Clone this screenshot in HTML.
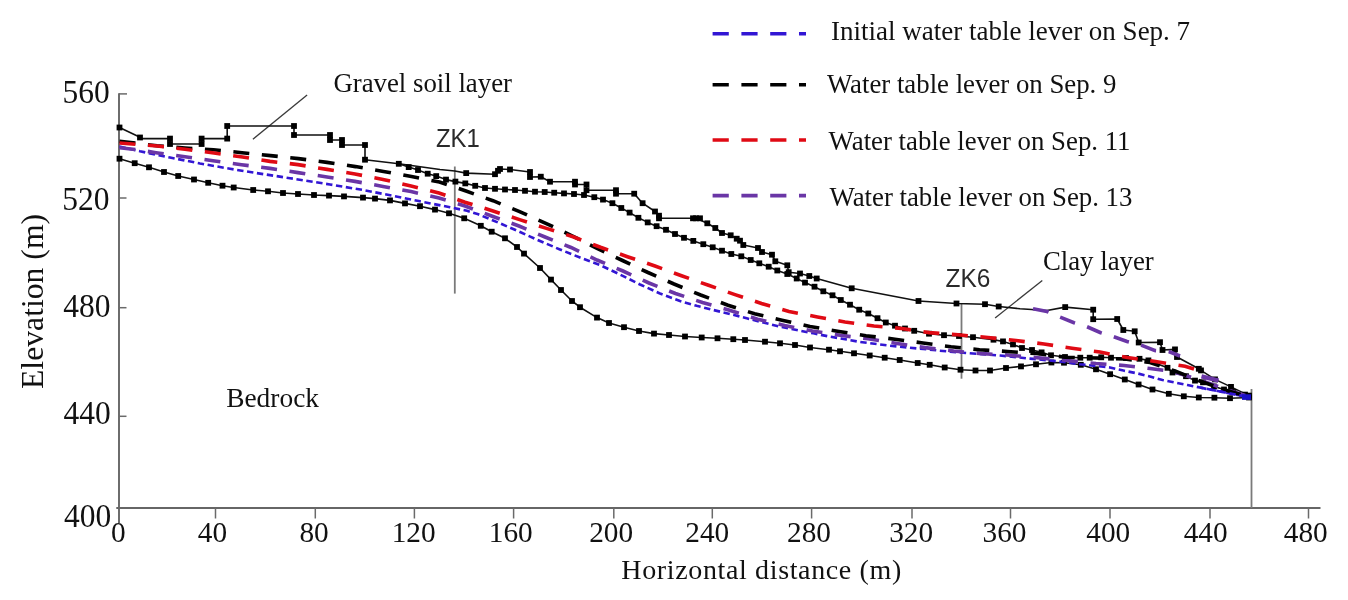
<!DOCTYPE html>
<html><head><meta charset="utf-8"><title>Elevation chart</title>
<style>html,body{margin:0;padding:0;background:#fff;} svg{display:block;filter:blur(0.3px);}</style>
</head><body>
<svg width="1348" height="600" viewBox="0 0 1348 600"><rect width="1348" height="600" fill="#fff"/><g stroke="#666" stroke-width="1.9" fill="none"><path d="M119,93.2 V523 M116.3,508 H1320.5"/></g><g stroke="#6a6a6a" stroke-width="1.5" fill="none"><path d="M119,93.9 H127"/><path d="M119,198 H126.5"/><path d="M119,307.7 H126.5"/><path d="M119,416.3 H126.5"/><path d="M215.5,508 V518.5"/><path d="M315.3,508 V518.5"/><path d="M414.4,508 V518.5"/><path d="M513.6,508 V518.5"/><path d="M613.8,508 V518.5"/><path d="M712.3,508 V518.5"/><path d="M811.6,508 V518.5"/><path d="M912,508 V518.5"/><path d="M1010.5,508 V518.5"/><path d="M1110,508 V518.5"/><path d="M1210,508 V518.5"/><path d="M1308.5,508 V518.5"/></g><g font-family="Liberation Serif" font-size="31.5" fill="#111" text-anchor="end"><text transform="translate(109.8,103.0) scale(1,1.1)">560</text><text transform="translate(109.4,210.4) scale(1,1.1)">520</text><text transform="translate(110.6,317.4) scale(1,1.1)">480</text><text transform="translate(110.8,424.0) scale(1,1.1)">440</text><text transform="translate(111.2,527.2) scale(1,1.1)">400</text></g><g font-family="Liberation Serif" font-size="29.3" fill="#111" text-anchor="middle"><text x="118.4" y="541.5">0</text><text x="212.5" y="541.5">40</text><text x="314.1" y="541.5">80</text><text x="413.7" y="541.5">120</text><text x="510.8" y="541.5">160</text><text x="611.2" y="541.5">200</text><text x="707.3" y="541.5">240</text><text x="809.0" y="541.5">280</text><text x="911.2" y="541.5">320</text><text x="1004.5" y="541.5">360</text><text x="1108.3" y="541.5">400</text><text x="1205.7" y="541.5">440</text><text x="1305.8" y="541.5">480</text></g><g stroke="#3a3a3a" stroke-width="1.3" fill="none"><path d="M307.1,95 L252.9,139.2"/><path d="M1042.3,280.5 L995.1,317.9"/></g><g stroke="#7a7a7a" stroke-width="1.8" fill="none"><path d="M454.8,166.5 V293.6"/><path d="M961.5,303 V378.7"/><path d="M1251.5,389 V508"/></g><g fill="none" stroke="#111" stroke-width="1.6" stroke-linejoin="round"><path d="M119.5,127.5 L140.0,137.2 L140.0,138.6 L170.0,138.6 L170.0,144.0 L201.6,144.0 L201.6,138.6 L227.2,138.6 L227.2,126.0 L294.0,126.0 L294.0,135.0 L330.0,135.0 L330.0,140.0 L342.0,140.0 L342.0,145.0 L365.0,145.0 L365.0,159.7 L398.8,163.8 L440.0,169.5 L454.8,171.0 L466.2,173.1 L495.0,174.2 L498.0,170.8 L500.0,169.0 L510.0,169.5 L530.0,172.0 L530.0,177.0 L540.8,176.7 L550.0,181.7 L575.0,181.7 L575.0,184.5 L586.5,184.5 L586.5,190.2 L616.0,190.2 L616.0,193.7 L634.2,193.7 L642.6,203.2 L655.0,211.5 L659.0,215.7 L659.0,218.3 L696.0,218.3 L707.3,223.3 L715.3,228.0 L722.0,233.0 L730.7,235.3 L736.7,238.7 L740.0,240.7 L743.3,245.0 L758.0,248.0 L762.0,252.0 L772.0,254.7 L775.3,261.3 L787.3,265.3 L788.7,272.2 L800.0,273.5 L809.3,276.0 L816.7,278.5 L851.7,288.3 L918.5,301.0 L956.5,303.5 L985.0,304.2 L998.7,306.5 L1020.0,308.7 L1047.0,310.5 L1065.2,307.1 L1093.2,309.7 L1093.2,319.2 L1117.2,319.0 L1123.3,330.0 L1134.7,331.3 L1138.7,342.5 L1160.0,342.2 L1162.5,350.0 L1175.0,349.4 L1177.0,357.0 L1198.8,368.8 L1201.0,370.4 L1215.0,379.4 L1231.0,386.9 L1249.0,395.6 L1251.5,397.0"/><path d="M398.8,163.8 L408.7,167.1 L418.0,170.0 L427.7,173.7 L436.2,176.1 L446.0,179.6 L455.4,181.6 L465.3,183.4 L475.2,185.8 L485.0,188.0 L495.0,188.8 L505.0,189.5 L515.0,190.0 L525.0,190.8 L535.0,191.7 L544.7,192.0 L554.2,192.7 L564.0,193.4 L574.0,194.0 L584.0,195.0 L594.3,197.2 L603.0,199.6 L612.4,203.2 L621.3,208.0 L629.6,212.6 L638.4,217.8 L647.7,222.4 L656.6,226.2 L666.0,229.8 L675.0,234.0 L684.0,237.8 L693.3,240.9 L703.3,244.2 L712.7,247.3 L722.0,250.7 L731.3,254.0 L741.3,256.3 L750.7,260.0 L759.3,263.3 L768.7,266.7 L777.3,270.5 L787.3,274.0 L796.7,278.5 L805.0,282.6 L814.5,286.7 L823.3,291.3 L832.5,295.3 L840.8,300.0 L850.0,304.7 L859.2,309.7 L868.3,313.5 L877.5,318.2 L885.8,322.5 L895.0,325.7 L905.0,328.5 L914.2,330.8 L929.0,333.7 L944.0,335.2 L959.0,336.0 L973.0,337.2 L993.5,339.7 L1003.0,341.4 L1013.0,344.4 L1022.0,348.0 L1032.0,350.0 L1041.6,352.4 L1051.0,355.3 L1065.0,357.0 L1080.3,357.7 L1089.7,357.7 L1101.2,357.3 L1111.0,357.7 L1126.0,358.0 L1139.5,358.8 L1148.4,360.4 L1167.5,367.8 L1172.5,372.5 L1186.0,376.2 L1195.0,380.6 L1203.0,382.3 L1214.0,386.5 L1224.0,389.5 L1233.5,392.0 L1245.0,394.6 L1251.5,397.0"/><path d="M119.5,158.7 L134.7,163.2 L149.0,167.3 L164.0,172.0 L178.2,176.0 L194.0,179.5 L208.2,182.8 L222.5,185.7 L233.7,187.5 L253.2,190.0 L268.0,191.3 L283.0,193.0 L298.0,194.0 L314.0,195.0 L329.0,195.6 L344.0,196.4 L363.0,197.6 L375.0,198.6 L390.0,200.4 L405.0,203.4 L420.0,206.2 L435.0,209.6 L449.0,213.3 L464.2,218.3 L480.8,225.8 L491.7,231.7 L505.0,238.3 L517.0,247.0 L524.0,253.6 L540.0,268.0 L551.0,279.6 L561.0,290.0 L572.0,301.0 L580.0,307.2 L597.0,317.6 L609.0,323.0 L624.0,327.2 L639.0,331.0 L654.0,333.6 L669.0,335.0 L685.0,336.5 L701.7,337.5 L717.5,338.3 L733.3,339.2 L745.0,340.0 L765.0,341.7 L780.0,343.3 L795.0,345.0 L810.0,347.5 L829.0,349.7 L840.0,351.3 L854.0,353.3 L869.7,355.5 L884.7,357.7 L899.7,360.0 L917.7,363.0 L929.7,364.8 L944.7,367.5 L960.5,369.7 L975.5,370.5 L990.0,370.5 L1006.0,368.0 L1021.0,366.4 L1036.0,364.3 L1051.4,362.5 L1064.0,362.7 L1080.8,364.8 L1096.0,369.3 L1110.1,374.2 L1124.8,379.5 L1138.6,384.5 L1152.5,389.5 L1168.8,393.8 L1183.8,396.3 L1198.8,397.5 L1214.4,397.7 L1230.0,398.2 L1249.0,397.5 L1251.5,397.0"/></g><g fill="#000"><rect x="116.6" y="124.6" width="5.8" height="5.8"/><rect x="137.1" y="134.6" width="5.8" height="5.8"/><rect x="167.1" y="135.7" width="5.8" height="5.8"/><rect x="167.1" y="141.1" width="5.8" height="5.8"/><rect x="198.7" y="141.1" width="5.8" height="5.8"/><rect x="198.7" y="135.7" width="5.8" height="5.8"/><rect x="224.3" y="135.7" width="5.8" height="5.8"/><rect x="224.3" y="123.1" width="5.8" height="5.8"/><rect x="291.1" y="123.1" width="5.8" height="5.8"/><rect x="291.1" y="132.1" width="5.8" height="5.8"/><rect x="327.1" y="132.1" width="5.8" height="5.8"/><rect x="327.1" y="137.1" width="5.8" height="5.8"/><rect x="339.1" y="137.1" width="5.8" height="5.8"/><rect x="339.1" y="142.1" width="5.8" height="5.8"/><rect x="362.1" y="142.1" width="5.8" height="5.8"/><rect x="362.1" y="156.8" width="5.8" height="5.8"/><rect x="395.9" y="160.9" width="5.8" height="5.8"/><rect x="463.3" y="170.2" width="5.8" height="5.8"/><rect x="492.1" y="171.3" width="5.8" height="5.8"/><rect x="495.1" y="167.9" width="5.8" height="5.8"/><rect x="497.1" y="166.1" width="5.8" height="5.8"/><rect x="507.1" y="166.6" width="5.8" height="5.8"/><rect x="527.1" y="169.1" width="5.8" height="5.8"/><rect x="527.1" y="174.1" width="5.8" height="5.8"/><rect x="537.9" y="173.8" width="5.8" height="5.8"/><rect x="547.1" y="178.8" width="5.8" height="5.8"/><rect x="572.1" y="178.8" width="5.8" height="5.8"/><rect x="572.1" y="181.6" width="5.8" height="5.8"/><rect x="583.6" y="181.6" width="5.8" height="5.8"/><rect x="583.6" y="187.3" width="5.8" height="5.8"/><rect x="613.1" y="187.3" width="5.8" height="5.8"/><rect x="613.1" y="190.8" width="5.8" height="5.8"/><rect x="631.3" y="190.8" width="5.8" height="5.8"/><rect x="639.7" y="200.3" width="5.8" height="5.8"/><rect x="652.1" y="208.6" width="5.8" height="5.8"/><rect x="656.1" y="212.8" width="5.8" height="5.8"/><rect x="656.1" y="215.4" width="5.8" height="5.8"/><rect x="690.1" y="215.4" width="5.8" height="5.8"/><rect x="693.1" y="215.4" width="5.8" height="5.8"/><rect x="697.1" y="215.4" width="5.8" height="5.8"/><rect x="704.4" y="220.4" width="5.8" height="5.8"/><rect x="712.4" y="225.1" width="5.8" height="5.8"/><rect x="719.1" y="230.1" width="5.8" height="5.8"/><rect x="727.8" y="232.4" width="5.8" height="5.8"/><rect x="733.8" y="235.8" width="5.8" height="5.8"/><rect x="737.1" y="237.8" width="5.8" height="5.8"/><rect x="740.4" y="242.1" width="5.8" height="5.8"/><rect x="755.1" y="245.1" width="5.8" height="5.8"/><rect x="759.1" y="249.1" width="5.8" height="5.8"/><rect x="769.1" y="251.8" width="5.8" height="5.8"/><rect x="772.4" y="258.4" width="5.8" height="5.8"/><rect x="784.4" y="262.4" width="5.8" height="5.8"/><rect x="785.8" y="269.3" width="5.8" height="5.8"/><rect x="797.1" y="270.6" width="5.8" height="5.8"/><rect x="806.4" y="273.1" width="5.8" height="5.8"/><rect x="813.8" y="275.6" width="5.8" height="5.8"/><rect x="848.8" y="285.4" width="5.8" height="5.8"/><rect x="915.6" y="298.1" width="5.8" height="5.8"/><rect x="953.6" y="300.6" width="5.8" height="5.8"/><rect x="982.1" y="301.3" width="5.8" height="5.8"/><rect x="995.8" y="303.6" width="5.8" height="5.8"/><rect x="1062.3" y="304.2" width="5.8" height="5.8"/><rect x="1090.3" y="306.8" width="5.8" height="5.8"/><rect x="1090.3" y="316.3" width="5.8" height="5.8"/><rect x="1114.3" y="316.1" width="5.8" height="5.8"/><rect x="1120.4" y="327.1" width="5.8" height="5.8"/><rect x="1131.8" y="328.4" width="5.8" height="5.8"/><rect x="1135.8" y="339.6" width="5.8" height="5.8"/><rect x="1157.1" y="339.3" width="5.8" height="5.8"/><rect x="1159.6" y="347.1" width="5.8" height="5.8"/><rect x="1172.1" y="346.5" width="5.8" height="5.8"/><rect x="1174.1" y="354.1" width="5.8" height="5.8"/><rect x="1195.9" y="365.9" width="5.8" height="5.8"/><rect x="1198.1" y="367.5" width="5.8" height="5.8"/><rect x="1212.1" y="376.5" width="5.8" height="5.8"/><rect x="1228.1" y="384.0" width="5.8" height="5.8"/><rect x="1246.1" y="392.7" width="5.8" height="5.8"/><rect x="405.8" y="164.2" width="5.8" height="5.8"/><rect x="415.1" y="167.1" width="5.8" height="5.8"/><rect x="424.8" y="170.8" width="5.8" height="5.8"/><rect x="433.3" y="173.2" width="5.8" height="5.8"/><rect x="443.1" y="176.7" width="5.8" height="5.8"/><rect x="452.5" y="178.7" width="5.8" height="5.8"/><rect x="462.4" y="180.5" width="5.8" height="5.8"/><rect x="472.3" y="182.9" width="5.8" height="5.8"/><rect x="482.1" y="185.1" width="5.8" height="5.8"/><rect x="492.1" y="185.9" width="5.8" height="5.8"/><rect x="502.1" y="186.6" width="5.8" height="5.8"/><rect x="512.1" y="187.1" width="5.8" height="5.8"/><rect x="522.1" y="187.9" width="5.8" height="5.8"/><rect x="532.1" y="188.8" width="5.8" height="5.8"/><rect x="541.8" y="189.1" width="5.8" height="5.8"/><rect x="551.3" y="189.8" width="5.8" height="5.8"/><rect x="561.1" y="190.5" width="5.8" height="5.8"/><rect x="571.1" y="191.1" width="5.8" height="5.8"/><rect x="581.1" y="192.1" width="5.8" height="5.8"/><rect x="591.4" y="194.3" width="5.8" height="5.8"/><rect x="600.1" y="196.7" width="5.8" height="5.8"/><rect x="609.5" y="200.3" width="5.8" height="5.8"/><rect x="618.4" y="205.1" width="5.8" height="5.8"/><rect x="626.7" y="209.7" width="5.8" height="5.8"/><rect x="635.5" y="214.9" width="5.8" height="5.8"/><rect x="644.8" y="219.5" width="5.8" height="5.8"/><rect x="653.7" y="223.3" width="5.8" height="5.8"/><rect x="663.1" y="226.9" width="5.8" height="5.8"/><rect x="672.1" y="231.1" width="5.8" height="5.8"/><rect x="681.1" y="234.9" width="5.8" height="5.8"/><rect x="690.4" y="238.0" width="5.8" height="5.8"/><rect x="700.4" y="241.3" width="5.8" height="5.8"/><rect x="709.8" y="244.4" width="5.8" height="5.8"/><rect x="719.1" y="247.8" width="5.8" height="5.8"/><rect x="728.4" y="251.1" width="5.8" height="5.8"/><rect x="738.4" y="253.4" width="5.8" height="5.8"/><rect x="747.8" y="257.1" width="5.8" height="5.8"/><rect x="756.4" y="260.4" width="5.8" height="5.8"/><rect x="765.8" y="263.8" width="5.8" height="5.8"/><rect x="774.4" y="267.6" width="5.8" height="5.8"/><rect x="784.4" y="271.1" width="5.8" height="5.8"/><rect x="793.8" y="275.6" width="5.8" height="5.8"/><rect x="802.1" y="279.7" width="5.8" height="5.8"/><rect x="811.6" y="283.8" width="5.8" height="5.8"/><rect x="820.4" y="288.4" width="5.8" height="5.8"/><rect x="829.6" y="292.4" width="5.8" height="5.8"/><rect x="837.9" y="297.1" width="5.8" height="5.8"/><rect x="847.1" y="301.8" width="5.8" height="5.8"/><rect x="856.3" y="306.8" width="5.8" height="5.8"/><rect x="865.4" y="310.6" width="5.8" height="5.8"/><rect x="874.6" y="315.3" width="5.8" height="5.8"/><rect x="882.9" y="319.6" width="5.8" height="5.8"/><rect x="892.1" y="322.8" width="5.8" height="5.8"/><rect x="902.1" y="325.6" width="5.8" height="5.8"/><rect x="911.3" y="327.9" width="5.8" height="5.8"/><rect x="926.1" y="330.8" width="5.8" height="5.8"/><rect x="941.1" y="332.3" width="5.8" height="5.8"/><rect x="956.1" y="333.1" width="5.8" height="5.8"/><rect x="970.1" y="334.3" width="5.8" height="5.8"/><rect x="990.6" y="336.8" width="5.8" height="5.8"/><rect x="1000.1" y="338.5" width="5.8" height="5.8"/><rect x="1010.1" y="341.5" width="5.8" height="5.8"/><rect x="1019.1" y="345.1" width="5.8" height="5.8"/><rect x="1029.1" y="347.1" width="5.8" height="5.8"/><rect x="1038.7" y="349.5" width="5.8" height="5.8"/><rect x="1048.1" y="352.4" width="5.8" height="5.8"/><rect x="1062.1" y="354.1" width="5.8" height="5.8"/><rect x="1077.4" y="354.8" width="5.8" height="5.8"/><rect x="1086.8" y="354.8" width="5.8" height="5.8"/><rect x="1098.3" y="354.4" width="5.8" height="5.8"/><rect x="1108.1" y="354.8" width="5.8" height="5.8"/><rect x="1123.1" y="355.1" width="5.8" height="5.8"/><rect x="1136.6" y="355.9" width="5.8" height="5.8"/><rect x="1145.5" y="357.5" width="5.8" height="5.8"/><rect x="1164.6" y="364.9" width="5.8" height="5.8"/><rect x="1169.6" y="369.6" width="5.8" height="5.8"/><rect x="1183.1" y="373.3" width="5.8" height="5.8"/><rect x="1192.1" y="377.7" width="5.8" height="5.8"/><rect x="1200.1" y="379.4" width="5.8" height="5.8"/><rect x="1211.1" y="383.6" width="5.8" height="5.8"/><rect x="1221.1" y="386.6" width="5.8" height="5.8"/><rect x="1230.6" y="389.1" width="5.8" height="5.8"/><rect x="1242.1" y="391.7" width="5.8" height="5.8"/><rect x="116.6" y="155.8" width="5.8" height="5.8"/><rect x="131.8" y="160.3" width="5.8" height="5.8"/><rect x="146.1" y="164.4" width="5.8" height="5.8"/><rect x="161.1" y="169.1" width="5.8" height="5.8"/><rect x="175.3" y="173.1" width="5.8" height="5.8"/><rect x="191.1" y="176.6" width="5.8" height="5.8"/><rect x="205.3" y="179.9" width="5.8" height="5.8"/><rect x="219.6" y="182.8" width="5.8" height="5.8"/><rect x="230.8" y="184.6" width="5.8" height="5.8"/><rect x="250.3" y="187.1" width="5.8" height="5.8"/><rect x="265.1" y="188.4" width="5.8" height="5.8"/><rect x="280.1" y="190.1" width="5.8" height="5.8"/><rect x="295.1" y="191.1" width="5.8" height="5.8"/><rect x="311.1" y="192.1" width="5.8" height="5.8"/><rect x="326.1" y="192.7" width="5.8" height="5.8"/><rect x="341.1" y="193.5" width="5.8" height="5.8"/><rect x="360.1" y="194.7" width="5.8" height="5.8"/><rect x="372.1" y="195.7" width="5.8" height="5.8"/><rect x="387.1" y="197.5" width="5.8" height="5.8"/><rect x="402.1" y="200.5" width="5.8" height="5.8"/><rect x="417.1" y="203.3" width="5.8" height="5.8"/><rect x="432.1" y="206.7" width="5.8" height="5.8"/><rect x="446.1" y="210.4" width="5.8" height="5.8"/><rect x="461.3" y="215.4" width="5.8" height="5.8"/><rect x="477.9" y="222.9" width="5.8" height="5.8"/><rect x="488.8" y="228.8" width="5.8" height="5.8"/><rect x="502.1" y="235.4" width="5.8" height="5.8"/><rect x="514.1" y="244.1" width="5.8" height="5.8"/><rect x="521.1" y="250.7" width="5.8" height="5.8"/><rect x="537.1" y="265.1" width="5.8" height="5.8"/><rect x="548.1" y="276.7" width="5.8" height="5.8"/><rect x="558.1" y="287.1" width="5.8" height="5.8"/><rect x="569.1" y="298.1" width="5.8" height="5.8"/><rect x="577.1" y="304.3" width="5.8" height="5.8"/><rect x="594.1" y="314.7" width="5.8" height="5.8"/><rect x="606.1" y="320.1" width="5.8" height="5.8"/><rect x="621.1" y="324.3" width="5.8" height="5.8"/><rect x="636.1" y="328.1" width="5.8" height="5.8"/><rect x="651.1" y="330.7" width="5.8" height="5.8"/><rect x="666.1" y="332.1" width="5.8" height="5.8"/><rect x="682.1" y="333.6" width="5.8" height="5.8"/><rect x="698.8" y="334.6" width="5.8" height="5.8"/><rect x="714.6" y="335.4" width="5.8" height="5.8"/><rect x="730.4" y="336.3" width="5.8" height="5.8"/><rect x="742.1" y="337.1" width="5.8" height="5.8"/><rect x="762.1" y="338.8" width="5.8" height="5.8"/><rect x="777.1" y="340.4" width="5.8" height="5.8"/><rect x="792.1" y="342.1" width="5.8" height="5.8"/><rect x="807.1" y="344.6" width="5.8" height="5.8"/><rect x="826.1" y="346.8" width="5.8" height="5.8"/><rect x="837.1" y="348.4" width="5.8" height="5.8"/><rect x="851.1" y="350.4" width="5.8" height="5.8"/><rect x="866.8" y="352.6" width="5.8" height="5.8"/><rect x="881.8" y="354.8" width="5.8" height="5.8"/><rect x="896.8" y="357.1" width="5.8" height="5.8"/><rect x="914.8" y="360.1" width="5.8" height="5.8"/><rect x="926.8" y="361.9" width="5.8" height="5.8"/><rect x="941.8" y="364.6" width="5.8" height="5.8"/><rect x="957.6" y="366.8" width="5.8" height="5.8"/><rect x="972.6" y="367.6" width="5.8" height="5.8"/><rect x="987.1" y="367.6" width="5.8" height="5.8"/><rect x="1003.1" y="365.1" width="5.8" height="5.8"/><rect x="1018.1" y="363.5" width="5.8" height="5.8"/><rect x="1033.1" y="361.4" width="5.8" height="5.8"/><rect x="1048.5" y="359.6" width="5.8" height="5.8"/><rect x="1061.1" y="359.8" width="5.8" height="5.8"/><rect x="1077.9" y="361.9" width="5.8" height="5.8"/><rect x="1093.1" y="366.4" width="5.8" height="5.8"/><rect x="1107.2" y="371.3" width="5.8" height="5.8"/><rect x="1121.9" y="376.6" width="5.8" height="5.8"/><rect x="1135.7" y="381.6" width="5.8" height="5.8"/><rect x="1149.6" y="386.6" width="5.8" height="5.8"/><rect x="1165.9" y="390.9" width="5.8" height="5.8"/><rect x="1180.9" y="393.4" width="5.8" height="5.8"/><rect x="1195.9" y="394.6" width="5.8" height="5.8"/><rect x="1211.5" y="394.8" width="5.8" height="5.8"/><rect x="1227.1" y="395.3" width="5.8" height="5.8"/><rect x="1246.1" y="394.6" width="5.8" height="5.8"/></g><path d="M119.5,146.5 L140.0,151.3 L170.0,157.5 L200.0,163.5 L230.0,168.8 L260.0,173.6 L290.0,178.2 L330.0,184.5 L362.0,189.8 L394.0,196.0 L420.0,201.3 L450.0,207.3 L467.0,210.8 L478.3,214.3 L500.0,223.3 L520.0,232.0 L540.0,241.0 L560.0,249.5 L580.0,257.5 L600.0,265.0 L620.0,274.5 L640.0,284.5 L660.0,293.5 L680.0,301.0 L696.7,305.8 L713.3,310.0 L730.0,314.0 L746.7,318.3 L763.3,322.5 L780.0,326.7 L796.7,330.0 L813.3,333.3 L830.0,336.7 L846.7,339.5 L860.0,342.0 L890.0,345.7 L920.0,348.7 L950.0,351.7 L980.0,354.0 L1000.0,355.5 L1030.0,358.6 L1060.0,361.5 L1080.0,364.2 L1110.0,367.5 L1123.5,370.6 L1137.0,373.3 L1150.0,376.5 L1162.5,380.0 L1175.0,382.5 L1187.5,385.0 L1200.0,387.5 L1212.5,390.0 L1225.0,392.5 L1237.5,395.0 L1250.0,397.0" fill="none" stroke="#3216d4" stroke-width="2.6" stroke-dasharray="6.4 3.6"/><path d="M119.5,147.8 L136.0,149.5 L156.0,152.7 L185.0,156.8 L213.0,160.7 L241.5,164.7 L270.0,168.4 L298.0,172.6 L327.0,177.0 L355.0,181.4 L383.0,186.4 L411.0,191.6 L439.0,198.0 L465.0,206.0 L491.0,215.8 L519.0,226.0 L545.0,237.0 L571.0,247.5 L597.0,260.0 L623.0,271.0 L649.0,283.0 L675.5,293.5 L702.5,302.5 L729.6,310.3 L757.5,319.2 L784.6,325.5 L812.5,331.0 L840.0,335.3 L868.0,338.8 L897.0,343.5 L925.0,347.6 L953.7,351.0 L982.0,353.6 L1007.0,355.0 L1035.0,357.5 L1067.0,360.5 L1096.0,363.5 L1124.0,365.5 L1150.0,368.5 L1165.0,370.5 L1181.0,374.0 L1200.0,380.0 L1225.0,389.0 L1250.0,397.0" fill="none" stroke="#6a36a6" stroke-width="3.6" stroke-dasharray="16 12.6"/><path d="M119.5,141.2 L157.0,145.8 L185.0,148.0 L213.5,149.7 L242.0,152.7 L270.5,155.6 L298.5,158.6 L327.0,162.4 L355.5,166.6 L383.5,171.4 L411.5,176.6 L439.5,182.0 L466.0,191.0 L493.0,200.7 L519.6,211.6 L545.8,223.3 L571.5,235.5 L597.0,248.5 L622.5,260.5 L648.0,272.5 L674.0,284.0 L700.7,295.0 L728.0,305.2 L754.6,313.8 L782.0,320.2 L810.0,326.5 L839.0,331.5 L866.0,335.7 L895.0,339.2 L923.0,343.0 L951.0,346.8 L979.6,349.8 L1007.5,351.5 L1036.5,353.5 L1065.5,357.2 L1095.0,358.0 L1125.0,359.0 L1150.0,362.5 L1175.0,371.0 L1200.0,381.0 L1225.0,390.0 L1250.0,397.0" fill="none" stroke="#000" stroke-width="3.6" stroke-dasharray="16 12.6"/><path d="M119.5,143.0 L157.0,146.0 L185.0,149.3 L214.0,153.0 L242.5,157.0 L270.0,161.4 L298.0,164.6 L327.0,169.4 L355.0,174.0 L383.0,179.4 L411.0,186.0 L439.0,193.0 L465.0,202.2 L493.0,211.0 L519.6,219.6 L546.5,228.4 L573.0,236.8 L600.5,247.3 L627.5,256.7 L655.0,266.0 L681.5,275.7 L708.5,285.3 L735.0,294.6 L761.5,303.5 L789.0,311.5 L817.5,317.0 L845.0,322.0 L874.0,326.0 L901.6,328.5 L929.4,332.6 L958.0,334.8 L988.0,337.5 L1016.0,340.5 L1044.0,344.0 L1072.0,348.3 L1100.0,352.0 L1127.5,357.5 L1155.5,361.5 L1185.0,366.2 L1196.0,369.5" fill="none" stroke="#e00a14" stroke-width="3.6" stroke-dasharray="16 12.6"/><path d="M1033.0,308.7 L1047.0,311.5 L1059.0,316.7 L1074.0,322.7 L1087.0,326.7 L1100.7,332.7 L1113.0,336.5 L1127.0,341.5 L1140.7,345.0 L1154.7,350.5 L1168.8,351.5 L1180.0,356.0" fill="none" stroke="#6a36a6" stroke-width="3.6" stroke-dasharray="16 12.6"/><path d="M1201.5,376.3 L1218.5,380.6" fill="none" stroke="#6a36a6" stroke-width="4.4"/><path d="M1200.0,387.5 L1212.5,390.0 L1225.0,392.5 L1237.5,395.0 L1250.0,397.0" fill="none" stroke="#3216d4" stroke-width="2.8" stroke-dasharray="6.4 3.6"/><rect x="1242" y="394.3" width="9" height="5.6" fill="#1a10c8"/><path d="M712.6,33.8 H806" stroke="#3216d4" stroke-width="3.6" stroke-dasharray="16.2 12.6" fill="none"/><text x="831" y="39.8" font-family="Liberation Serif" font-size="27" fill="#111">Initial water table lever on Sep. 7</text><path d="M712.6,84.7 H806" stroke="#000" stroke-width="3.6" stroke-dasharray="16.2 12.6" fill="none"/><text x="826.9" y="93.0" font-family="Liberation Serif" font-size="26.8" fill="#111">Water table lever on Sep. 9</text><path d="M712.6,140.0 H806" stroke="#e00a14" stroke-width="3.6" stroke-dasharray="16.2 12.6" fill="none"/><text x="828.6" y="150.3" font-family="Liberation Serif" font-size="26.8" fill="#111">Water table lever on Sep. 11</text><path d="M712.6,195.6 H806" stroke="#6a36a6" stroke-width="3.6" stroke-dasharray="16.2 12.6" fill="none"/><text x="829.5" y="206.3" font-family="Liberation Serif" font-size="26.8" fill="#111">Water table lever on Sep. 13</text><g font-family="Liberation Serif" font-size="26.8" fill="#111"><text x="333.4" y="91.8">Gravel soil layer</text><text x="1042.9" y="270.1">Clay layer</text><text x="226.2" y="407.4" font-size="27.4">Bedrock</text><text x="621.3" y="579.3" font-size="28" letter-spacing="0.64">Horizontal distance (m)</text><text transform="translate(42.5,389) rotate(-90)" x="0" y="0" font-size="31.7">Elevation (m)</text></g><g font-family="Liberation Sans" font-size="25.2" fill="#2a2a2a"><text x="436" y="146.7" textLength="43.8" lengthAdjust="spacingAndGlyphs">ZK1</text><text x="945.6" y="286.5" textLength="44.8" lengthAdjust="spacingAndGlyphs">ZK6</text></g></svg>
</body></html>
